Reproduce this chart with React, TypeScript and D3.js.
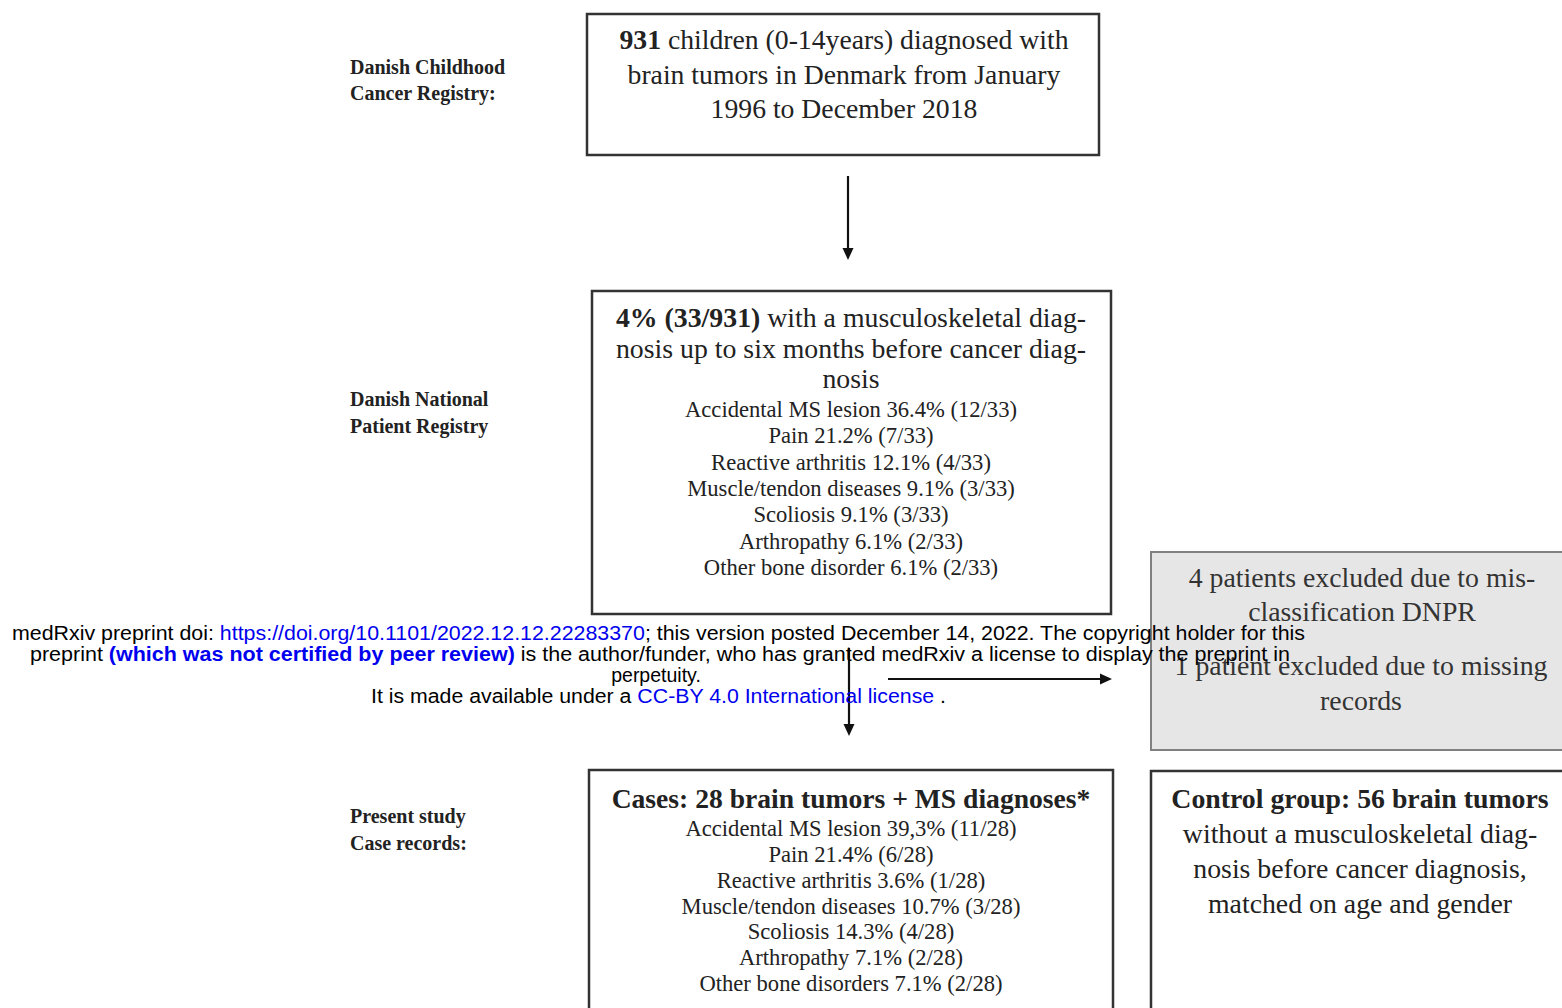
import React from "react";
import * as d3 from "d3";

const registryNames = ["Danish Childhood", "Cancer Registry:"];
const npLabel = ["Danish National", "Patient Registry"];
const studyLabel = ["Present study", "Case records:"];

const topBold = "931";
const topLines = [" children (0-14years) diagnosed with", "brain tumors in Denmark from January", "1996 to December 2018"];

const msHeadBold = "4% (33/931)";
const msHeadLines = [" with a musculoskeletal diag-", "nosis up to six months before cancer diag-", "nosis"];
const msDiag = ["Accidental MS lesion", "Pain", "Reactive arthritis", "Muscle/tendon diseases", "Scoliosis", "Arthropathy", "Other bone disorder"];
const msPct = ["36.4%", "21.2%", "12.1%", "9.1%", "9.1%", "6.1%", "6.1%"];
const msCount = ["12/33", "7/33", "4/33", "3/33", "3/33", "2/33", "2/33"];

const exclLines = ["4 patients excluded due to mis-", "classification DNPR", "1 patient excluded due to missing", "records"];

const caseHead = "Cases: 28 brain tumors + MS diagnoses*";
const caseDiag = ["Accidental MS lesion", "Pain", "Reactive arthritis", "Muscle/tendon diseases", "Scoliosis", "Arthropathy", "Other bone disorders"];
const casePct = ["39,3%", "21.4%", "3.6%", "10.7%", "14.3%", "7.1%", "7.1%"];
const caseCount = ["11/28", "6/28", "1/28", "3/28", "4/28", "2/28", "2/28"];

const ctrlHead = "Control group: 56 brain tumors";
const ctrlLines = ["without a musculoskeletal diag-", "nosis before cancer diagnosis,", "matched on age and gender"];

const SERIF = "'Liberation Serif', 'Times New Roman', serif";
const SANS = "'Liberation Sans', Arial, sans-serif";

function Arrow({ x1, y1, x2, y2 }: { x1: number; y1: number; x2: number; y2: number }) {
  const ang = Math.atan2(y2 - y1, x2 - x1);
  const L = 12, W = 5.5;
  const bx = x2 - L * Math.cos(ang), by = y2 - L * Math.sin(ang);
  const p = d3.path();
  p.moveTo(x2, y2);
  p.lineTo(bx + W * Math.sin(ang), by - W * Math.cos(ang));
  p.lineTo(bx - W * Math.sin(ang), by + W * Math.cos(ang));
  p.closePath();
  return (
    <g>
      <line x1={x1} y1={y1} x2={bx + Math.cos(ang)} y2={by + Math.sin(ang)} stroke="#111" strokeWidth={2.2} />
      <path d={p.toString()} fill="#111" />
    </g>
  );
}

export default function App() {
  const msY = d3.scaleLinear().domain([0, 6]).range([417, 575]);
  const caseY = d3.scaleLinear().domain([0, 6]).range([836, 991]);
  return (
    <svg width={1562} height={1008} style={{ position: "absolute", left: 0, top: 0, background: "#fff" }}>
      <rect x={0} y={0} width={1562} height={1008} fill="#fff" />
      {/* left labels */}
      <g fontFamily={SERIF} fontWeight="bold" fontSize={20} fill="#222">
        {registryNames.map((t, i) => <text key={t} x={350} y={74 + i * 26}>{t}</text>)}
        {npLabel.map((t, i) => <text key={t} x={350} y={406 + i * 27}>{t}</text>)}
        {studyLabel.map((t, i) => <text key={t} x={350} y={823 + i * 27}>{t}</text>)}
      </g>

      {/* box 1 */}
      <rect x={587} y={14} width={512} height={141} fill="#fff" stroke="#333" strokeWidth={2.5} />
      <g fontFamily={SERIF} fontSize={27.7} fill="#222" textAnchor="middle">
        <text x={844} y={49}><tspan fontWeight="bold">{topBold}</tspan>{topLines[0]}</text>
        <text x={844} y={84}>{topLines[1]}</text>
        <text x={844} y={118}>{topLines[2]}</text>
      </g>

      <Arrow x1={848} y1={176} x2={848} y2={260} />

      {/* box 2 */}
      <rect x={592} y={291} width={519} height={323} fill="#fff" stroke="#333" strokeWidth={2.5} />
      <g fontFamily={SERIF} fontSize={27.8} fill="#222" textAnchor="middle">
        <text x={851} y={327}><tspan fontWeight="bold">{msHeadBold}</tspan>{msHeadLines[0]}</text>
        <text x={851} y={358}>{msHeadLines[1]}</text>
        <text x={851} y={388}>{msHeadLines[2]}</text>
      </g>
      <g fontFamily={SERIF} fontSize={22.6} fill="#222" textAnchor="middle">
        {msDiag.map((d, i) => (
          <text key={d} x={851} y={msY(i)}>{`${d} ${msPct[i]} (${msCount[i]})`}</text>
        ))}
      </g>

      {/* excluded box */}
      <rect x={1151} y={552} width={420} height={198} fill="#e6e6e6" stroke="#808080" strokeWidth={2} />
      <g fontFamily={SERIF} fontSize={27.8} fill="#333" textAnchor="middle">
        <text x={1362} y={587}>{exclLines[0]}</text>
        <text x={1362} y={621}>{exclLines[1]}</text>
        <text x={1361} y={675}>{exclLines[2]}</text>
        <text x={1361} y={710}>{exclLines[3]}</text>
      </g>

      <Arrow x1={849} y1={648} x2={849} y2={736} />
      <Arrow x1={888} y1={679} x2={1112} y2={679} />

      {/* cases box */}
      <rect x={589} y={770} width={524} height={260} fill="#fff" stroke="#333" strokeWidth={2.5} />
      <g fontFamily={SERIF} fill="#222" textAnchor="middle">
        <text x={851} y={808} fontSize={27.6} fontWeight="bold">{caseHead}</text>
        {caseDiag.map((d, i) => (
          <text key={d} x={851} y={caseY(i)} fontSize={22.6}>{`${d} ${casePct[i]} (${caseCount[i]})`}</text>
        ))}
      </g>

      {/* control box */}
      <rect x={1151} y={771} width={420} height={260} fill="#fff" stroke="#333" strokeWidth={2.5} />
      <g fontFamily={SERIF} fill="#222" textAnchor="middle" fontSize={27.8}>
        <text x={1360} y={808} fontWeight="bold">{ctrlHead}</text>
        {ctrlLines.map((t, i) => <text key={t} x={1360} y={843 + i * 35}>{t}</text>)}
      </g>

      {/* watermark */}
      <g fontFamily={SANS} fontSize={19.5} fill="#000" textAnchor="middle">
        <text x={658.5} y={640} textLength={1293} lengthAdjust="spacingAndGlyphs">
          medRxiv preprint doi: <tspan fill="#0000ee">https://doi.org/10.1101/2022.12.12.22283370</tspan>; this version posted December 14, 2022. The copyright holder for this
        </text>
        <text x={660} y={661} textLength={1260} lengthAdjust="spacingAndGlyphs">
          preprint  <tspan fill="#0000ee" fontWeight="bold">(which was not certified by peer review)</tspan> is the author/funder, who has granted medRxiv a license to display the preprint in
        </text>
        <text x={656} y={682}>perpetuity.</text>
        <text x={658.5} y={703} textLength={575} lengthAdjust="spacingAndGlyphs">
          It is made available under a <tspan fill="#0000ee">CC-BY 4.0 International license</tspan> .
        </text>
      </g>
    </svg>
  );
}
